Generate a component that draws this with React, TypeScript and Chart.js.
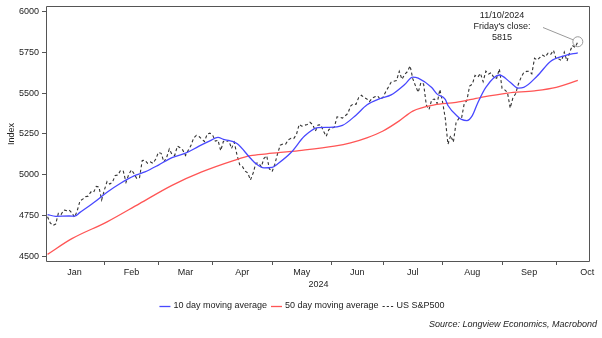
import React, { useEffect, useRef } from "react";
import { Chart, registerables } from "chart.js";

Chart.register(...registerables);

// ---- DATA ----
const tradingDates = [
  "01-02","01-03","01-04","01-05","01-08","01-09","01-10","01-11","01-12","01-16","01-17","01-18","01-19","01-22","01-23","01-24","01-25","01-26","01-29","01-30","01-31",
  "02-01","02-02","02-05","02-06","02-07","02-08","02-09","02-12","02-13","02-14","02-15","02-16","02-20","02-21","02-22","02-23","02-26","02-27","02-28","02-29",
  "03-01","03-04","03-05","03-06","03-07","03-08","03-11","03-12","03-13","03-14","03-15","03-18","03-19","03-20","03-21","03-22","03-25","03-26","03-27","03-28",
  "04-01","04-02","04-03","04-04","04-05","04-08","04-09","04-10","04-11","04-12","04-15","04-16","04-17","04-18","04-19","04-22","04-23","04-24","04-25","04-26","04-29","04-30",
  "05-01","05-02","05-03","05-06","05-07","05-08","05-09","05-10","05-13","05-14","05-15","05-16","05-17","05-20","05-21","05-22","05-23","05-24","05-28","05-29","05-30","05-31",
  "06-03","06-04","06-05","06-06","06-07","06-10","06-11","06-12","06-13","06-14","06-17","06-18","06-20","06-21","06-24","06-25","06-26","06-27","06-28",
  "07-01","07-02","07-03","07-05","07-08","07-09","07-10","07-11","07-12","07-15","07-16","07-17","07-18","07-19","07-22","07-23","07-24","07-25","07-26","07-29","07-30","07-31",
  "08-01","08-02","08-05","08-06","08-07","08-08","08-09","08-12","08-13","08-14","08-15","08-16","08-19","08-20","08-21","08-22","08-23","08-26","08-27","08-28","08-29","08-30",
  "09-03","09-04","09-05","09-06","09-09","09-10","09-11","09-12","09-13","09-16","09-17","09-18","09-19","09-20","09-23","09-24","09-25","09-26","09-27","09-30",
  "10-01","10-02","10-03","10-04","10-07","10-08","10-09","10-10","10-11",
];

const spx = [
  4742.8,4704.8,4688.7,4697.2,4763.5,4756.5,4783.5,4780.2,4783.8,4766.0,4739.2,4780.9,4839.8,4850.4,4864.6,4868.6,4894.2,4891.0,4927.9,4925.0,4845.7,
  4906.2,4958.6,4942.8,4954.2,4995.1,4997.9,5026.6,5021.8,4953.2,5000.6,5029.7,5005.6,4975.5,4981.8,5087.0,5088.8,5069.5,5078.2,5069.8,5096.3,
  5137.1,5130.9,5078.7,5104.8,5157.4,5123.7,5117.9,5175.3,5165.3,5150.5,5117.1,5149.4,5178.5,5224.6,5241.5,5234.2,5218.2,5203.6,5248.5,5254.4,
  5243.8,5205.8,5211.5,5147.2,5204.3,5202.4,5209.9,5160.6,5199.1,5123.4,5061.8,5051.4,5022.2,5011.1,4967.2,5010.6,5070.6,5071.6,5048.4,5100.0,5116.2,5035.7,
  5018.4,5064.2,5127.8,5180.7,5187.7,5187.7,5214.1,5222.7,5221.4,5246.7,5308.2,5297.1,5303.3,5308.1,5321.4,5307.0,5267.8,5304.7,5306.0,5267.0,5235.5,5277.5,
  5283.4,5291.3,5354.0,5353.0,5347.0,5360.8,5375.3,5421.0,5433.7,5431.6,5473.2,5487.0,5473.2,5464.6,5447.9,5469.3,5477.9,5482.9,5460.5,
  5475.1,5509.0,5537.0,5567.2,5572.9,5577.0,5633.9,5584.5,5615.4,5631.2,5667.2,5588.3,5544.6,5505.0,5564.4,5555.7,5427.1,5399.2,5459.1,5463.5,5436.4,5522.3,
  5446.7,5346.6,5186.3,5240.0,5199.5,5319.3,5344.2,5344.4,5434.4,5455.2,5543.2,5554.3,5608.3,5597.1,5620.9,5570.6,5634.6,5616.8,5625.8,5592.2,5592.0,5648.4,
  5528.9,5520.1,5503.4,5408.4,5471.1,5495.5,5554.1,5595.8,5626.0,5633.1,5634.6,5618.3,5713.6,5702.6,5718.6,5732.9,5722.3,5745.4,5738.2,5762.5,
  5708.8,5709.5,5699.9,5751.1,5695.9,5751.1,5792.0,5780.1,5815.0,
];

const ma10Dates = [
  "01-02","01-05","01-12","01-17","01-19","01-26","02-02","02-09","02-16","02-23","03-01","03-08","03-15","03-22","03-28",
  "04-03","04-05","04-12","04-19","04-23","04-26","05-01","05-03","05-10","05-17","05-24","05-31","06-07","06-14","06-21","06-28",
  "07-05","07-12","07-17","07-19","07-26","07-30","08-02","08-05","08-09","08-12","08-14","08-16","08-20","08-23","08-30",
  "09-06","09-11","09-13","09-20","09-27","10-04","10-11",
];
const ma10 = [
  4756,4745,4747,4746,4769,4828,4893,4948,4993,5017,5059,5105,5132,5175,5207,
  5229,5217,5191,5101,5068,5042,5045,5066,5136,5237,5289,5290,5302,5365,5427,5467,
  5489,5553,5598,5592,5534,5494,5462,5424,5351,5339,5332,5362,5440,5536,5611,
  5567,5531,5535,5605,5696,5729,5747,
];

const ma50Dates = [
  "01-02","01-16","02-02","02-21","03-08","03-25","04-11","04-19","04-29","05-15","06-04","06-12",
  "06-21","07-01","07-10","07-17","07-29","08-08","08-21","09-05","09-19","10-01","10-11",
];
const ma50 = [
  4512,4608,4711,4823,4935,5017,5088,5117,5128,5148,5175,5195,
  5226,5268,5330,5390,5428,5443,5473,5500,5514,5535,5578,
];

const monthNames = ["Jan","Feb","Mar","Apr","May","Jun","Jul","Aug","Sep","Oct"];
const yTickValues = [4500, 4750, 5000, 5250, 5500, 5750, 6000];
const OCT_TRADING_DAYS = 23;
const YEAR = "2024";

const seriesLabels = ["10 day moving average", "50 day moving average", "US S&P500"];
const sourceText = "Source: Longview Economics, Macrobond";

// ---- STYLE ----
const FAMILY = "'Liberation Sans', Arial, Helvetica, sans-serif";
const BLUE = "#4848ff";
const RED = "#ff5555";
const DARK = "#333333";
const TEXT = "#222";

const pos = (d: string) => tradingDates.indexOf(d) + 1;

const monthStarts = monthNames.map((_, m) => {
  if (m === 0) return 0;
  const mm = String(m + 1).padStart(2, "0");
  return tradingDates.findIndex((d) => d.startsWith(mm)) + 1;
});
const monthMids = monthStarts.map((s, m) =>
  (s + (m < monthStarts.length - 1 ? monthStarts[m + 1] : s + OCT_TRADING_DAYS)) / 2
);
const isStart = (v: number) => monthStarts.slice(1).some((s) => Math.abs(s - v) < 1e-6);

const framePlugin = {
  id: "frame",
  afterDatasetsDraw(chart: any) {
    const { ctx, chartArea } = chart;
    const l = Math.round(chartArea.left) - 0.5;
    const t = Math.round(chartArea.top) + 0.5;
    const r = Math.round(chartArea.right) - 0.5;
    const b = Math.round(chartArea.bottom) - 0.5;
    ctx.save();
    ctx.strokeStyle = "#555";
    ctx.lineWidth = 1;
    ctx.beginPath();
    ctx.moveTo(l, t);
    ctx.lineTo(r, t);
    ctx.lineTo(r, b);
    ctx.lineTo(l, b);
    ctx.closePath();
    ctx.stroke();
    ctx.restore();
  },
};

const annotationPlugin = {
  id: "closeNote",
  afterDatasetsDraw(chart: any) {
    const { ctx } = chart;
    const meta = chart.getDatasetMeta(2);
    const pt = meta.data[meta.data.length - 1];
    const px = pt.x;
    const py = pt.y;
    const R = 5;
    ctx.save();
    ctx.strokeStyle = "#9a9a9a";
    ctx.lineWidth = 1;
    ctx.beginPath();
    ctx.arc(px, py, R, 0, Math.PI * 2);
    ctx.stroke();
    const sx = 543, sy = 27.5;
    const ang = Math.atan2(py - sy, px - sx);
    ctx.beginPath();
    ctx.moveTo(sx, sy);
    ctx.lineTo(px - R * Math.cos(ang), py - R * Math.sin(ang));
    ctx.stroke();
    const lastDate = tradingDates[tradingDates.length - 1];
    const [mm, dd] = lastDate.split("-");
    const lines = [`${dd}/${mm}/${YEAR}`, "Friday's close:", String(Math.round(spx[spx.length - 1]))];
    ctx.fillStyle = TEXT;
    ctx.font = `9px ${FAMILY}`;
    ctx.textAlign = "center";
    ctx.textBaseline = "middle";
    lines.forEach((s, i) => ctx.fillText(s, 502, 16 + i * 11));
    ctx.restore();
  },
};

const legendPlugin = {
  id: "customLegend",
  afterDraw(chart: any) {
    const { ctx } = chart;
    const ds = chart.data.datasets;
    ctx.save();
    ctx.font = `9px ${FAMILY}`;
    const lineW = 11, gap = 3, spacing = 4;
    const widths = ds.map((d: any) => ctx.measureText(d.label).width);
    const total = widths.reduce((a: number, w: number) => a + lineW + gap + w, 0) + spacing * (ds.length - 1);
    let x = 302 - total / 2;
    const y = 306;
    ds.forEach((d: any, i: number) => {
      ctx.strokeStyle = d.borderColor;
      ctx.lineWidth = d.borderWidth;
      ctx.setLineDash(d.borderDash ? [2.2, 2] : []);
      ctx.beginPath();
      ctx.moveTo(x, y + 0.5);
      ctx.lineTo(x + lineW, y + 0.5);
      ctx.stroke();
      ctx.setLineDash([]);
      x += lineW + gap;
      ctx.fillStyle = TEXT;
      ctx.textAlign = "left";
      ctx.textBaseline = "middle";
      ctx.fillText(d.label, x, y);
      x += widths[i] + spacing;
    });
    ctx.font = `italic 9px ${FAMILY}`;
    ctx.textAlign = "right";
    ctx.fillText(sourceText, 597, 324);
    ctx.restore();
  },
};

export default function App() {
  const ref = useRef<HTMLCanvasElement>(null);
  useEffect(() => {
    const canvas = ref.current;
    if (!canvas) return;
    const spxPts = tradingDates.map((d, i) => ({ x: pos(d), y: spx[i] }));
    const ma10Pts = ma10Dates.map((d, i) => ({ x: pos(d), y: ma10[i] }));
    const ma50Pts = ma50Dates.map((d, i) => ({ x: pos(d), y: ma50[i] }));
    const chart = new Chart(canvas, {
      type: "line",
      data: {
        datasets: [
          { label: seriesLabels[0], data: ma10Pts, borderColor: BLUE, borderWidth: 1.3, pointRadius: 0, cubicInterpolationMode: "monotone", fill: false },
          { label: seriesLabels[1], data: ma50Pts, borderColor: RED, borderWidth: 1.3, pointRadius: 0, cubicInterpolationMode: "monotone", fill: false },
          { label: seriesLabels[2], data: spxPts, borderColor: DARK, borderWidth: 1.1, borderDash: [3, 2.5], pointRadius: 0, tension: 0, fill: false },
        ],
      } as any,
      options: {
        responsive: false,
        animation: false,
        devicePixelRatio: 1,
        events: [],
        layout: { padding: { left: 0, top: 6, right: 12, bottom: 46 } },
        plugins: { legend: { display: false }, tooltip: { enabled: false } },
        scales: {
          x: {
            type: "linear",
            min: 0.8,
            max: 201.5,
            afterBuildTicks: (s: any) => {
              const vals = [...monthStarts.slice(1), ...monthMids].sort((a, b) => a - b);
              s.ticks = vals.map((v) => ({ value: v }));
            },
            afterFit: (s: any) => {
              s.height = 30;
              s.paddingLeft = 0;
              s.paddingRight = 0;
            },
            border: { display: false },
            grid: {
              display: true,
              drawOnChartArea: false,
              drawTicks: true,
              tickLength: 3,
              tickWidth: 1,
              tickColor: (c: any) => (c.tick && isStart(c.tick.value) ? "#555" : "rgba(0,0,0,0)"),
              color: "rgba(0,0,0,0)",
            },
            ticks: {
              autoSkip: false,
              maxRotation: 0,
              padding: 2,
              color: TEXT,
              font: { family: FAMILY, size: 9 },
              callback: (v: any) => {
                const i = monthMids.findIndex((m) => Math.abs(m - Number(v)) < 1e-6);
                return i >= 0 ? monthNames[i] : "";
              },
            },
            title: {
              display: true,
              text: YEAR,
              color: TEXT,
              font: { family: FAMILY, size: 9 },
              padding: { top: 0, bottom: 1.6 },
            },
          },
          y: {
            type: "linear",
            min: 4465,
            max: 6034,
            afterBuildTicks: (s: any) => {
              s.ticks = yTickValues.map((v) => ({ value: v }));
            },
            afterFit: (s: any) => {
              s.width = 47;
              s.paddingTop = 0;
              s.paddingBottom = 0;
            },
            border: { display: false },
            grid: {
              display: true,
              drawOnChartArea: false,
              drawTicks: true,
              tickLength: 5,
              tickColor: "#555",
              color: "rgba(0,0,0,0)",
            },
            ticks: {
              padding: 3,
              color: TEXT,
              font: { family: FAMILY, size: 9 },
              callback: (v: any) => String(v),
            },
            title: {
              display: true,
              text: "Index",
              color: TEXT,
              font: { family: FAMILY, size: 9 },
              padding: { top: 6, bottom: 0 },
            },
          },
        },
      } as any,
      plugins: [framePlugin, annotationPlugin, legendPlugin],
    });
    return () => chart.destroy();
  }, []);
  return (
    <div style={{ position: "absolute", left: 0, top: 0, width: 602, height: 338, background: "#fff" }}>
      <canvas ref={ref} width={602} height={338} style={{ display: "block" }} />
    </div>
  );
}
